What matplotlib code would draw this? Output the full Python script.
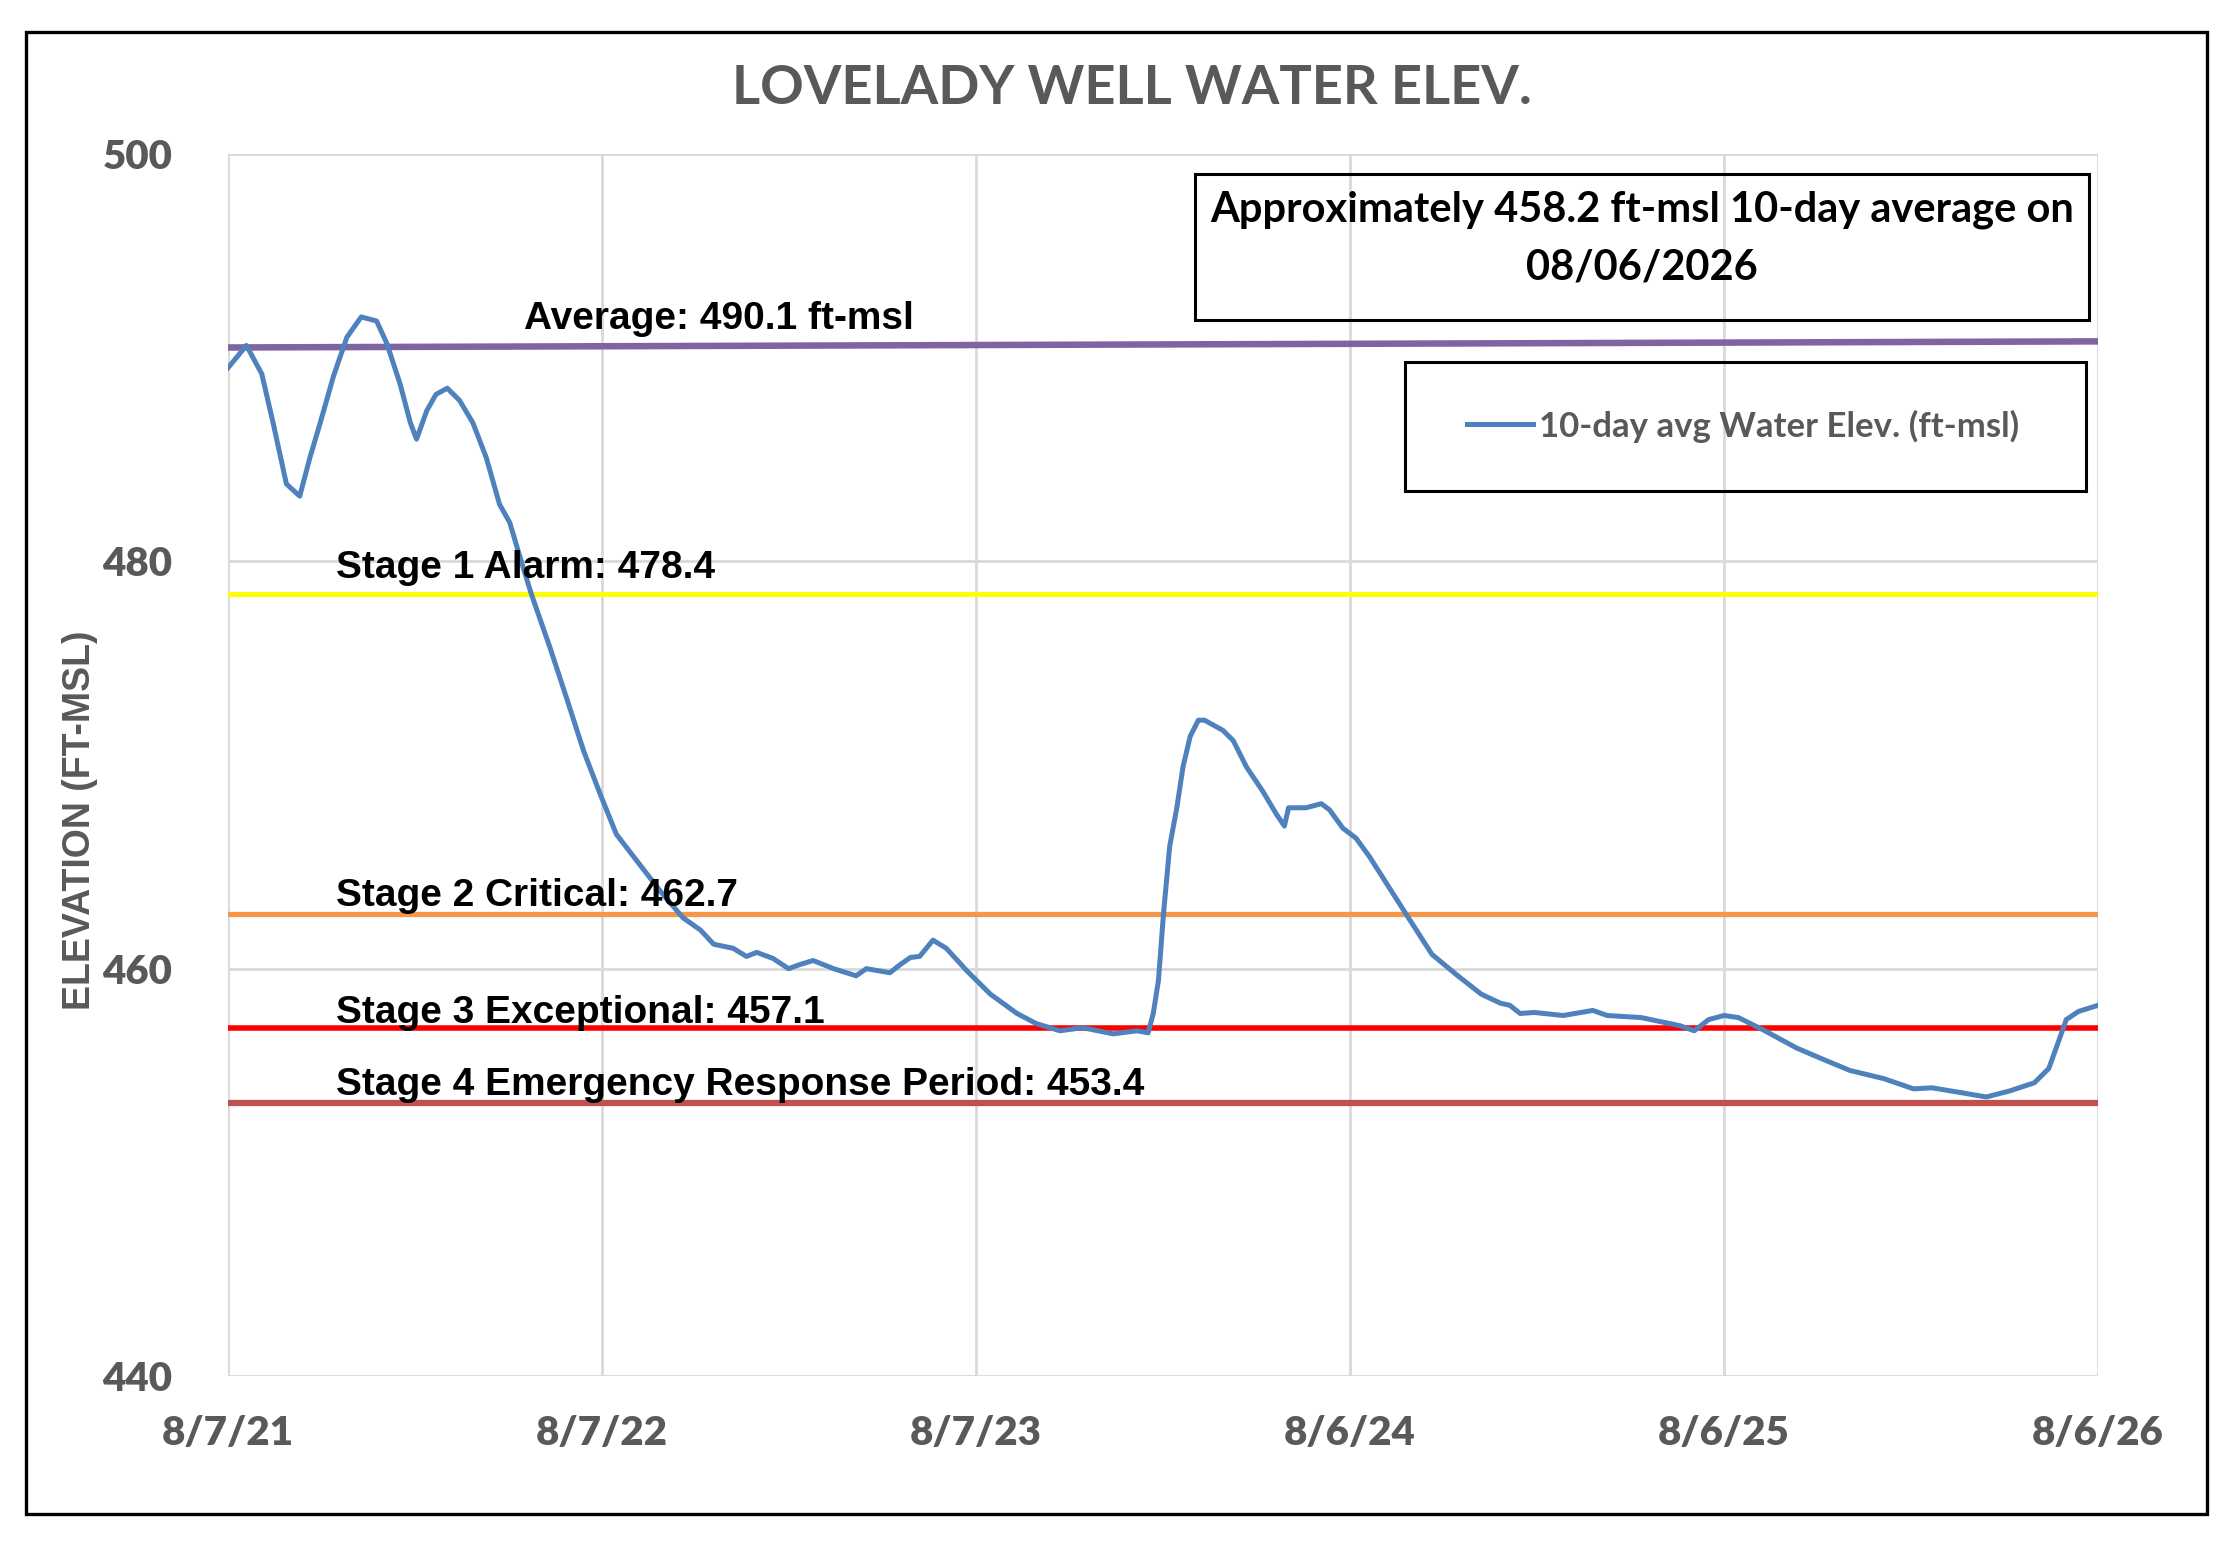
import numpy as np
import pandas as pd
import matplotlib
matplotlib.use("Agg")
import matplotlib.pyplot as plt
from matplotlib.patches import Rectangle

# data (day offset from 8/7/21, 10-day avg elevation ft-msl)
start_date = "2021-08-07"
days = [0, 18, 33, 44, 57, 70, 80, 90, 103, 116, 130, 145, 155, 168, 178, 184, 194,
        203, 214, 226, 239, 252, 265, 275, 285, 296, 314, 331, 347, 363, 379, 402,
        422, 444, 461, 474, 493, 506, 516, 532, 547, 558, 571, 591, 613, 623, 646,
        656, 666, 675, 688, 701, 721, 744, 770, 789, 812, 834, 864, 887, 898, 903,
        908, 913, 919, 926, 932, 939, 947, 953, 971, 981, 994, 1010, 1023, 1031,
        1035, 1052, 1067, 1075, 1088, 1101, 1114, 1133, 1152, 1175, 1199, 1223,
        1242, 1251, 1261, 1275, 1303, 1332, 1346, 1379, 1398, 1417, 1431, 1445,
        1460, 1474, 1498, 1531, 1559, 1583, 1616, 1645, 1663, 1687, 1716, 1739,
        1763, 1777, 1787, 1794, 1806, 1825]
elev = [489.5, 490.6, 489.2, 486.8, 483.8, 483.2, 485.1, 486.8, 489.1, 491.0, 492.0,
        491.8, 490.7, 488.7, 486.8, 486.0, 487.4, 488.2, 488.5, 487.9, 486.8, 485.1,
        482.8, 481.9, 480.2, 478.4, 475.8, 473.2, 470.7, 468.6, 466.6, 465.1, 463.8,
        462.5, 461.9, 461.2, 461.0, 460.6, 460.8, 460.5, 460.0, 460.2, 460.4, 460.0,
        459.65, 460.0, 459.8, 460.2, 460.55, 460.6, 461.4, 461.0, 459.9, 458.75,
        457.8, 457.3, 456.95, 457.1, 456.8, 456.95, 456.85, 457.8, 459.4, 462.7,
        466.0, 467.9, 469.9, 471.4, 472.2, 472.2, 471.7, 471.2, 469.9, 468.7, 467.6,
        467.0, 467.9, 467.9, 468.1, 467.8, 466.9, 466.4, 465.5, 464.0, 462.5, 460.7,
        459.7, 458.75, 458.3, 458.2, 457.8, 457.85, 457.7, 457.95, 457.7, 457.6,
        457.4, 457.2, 456.95, 457.5, 457.7, 457.6, 457.0, 456.1, 455.5, 455.0, 454.6,
        454.1, 454.15, 453.95, 453.7, 454.0, 454.4, 455.1, 456.5, 457.5, 457.9, 458.2]

avg_line = [490.5, 490.8]   # drawn average line, start and end
stage_names = ["Stage 1 Alarm: 478.4", "Stage 2 Critical: 462.7",
               "Stage 3 Exceptional: 457.1", "Stage 4 Emergency Response Period: 453.4"]
stage_vals = [478.4, 462.7, 457.1, 453.4]
stage_cols = ["#FFFF00", "#F79646", "#FF0000", "#C0504D"]
stage_lw = [3.6, 3.8, 4.0, 4.5]
stage_text_y = [479.2, 463.1, 457.33, 453.79]

tick_dates = ["2021-08-07", "2022-08-07", "2023-08-07", "2024-08-06", "2025-08-06", "2026-08-06"]
tick_labels = ["8/7/21", "8/7/22", "8/7/23", "8/6/24", "8/6/25", "8/6/26"]
yticks = [440, 460, 480, 500]

t0 = pd.Timestamp(start_date)
dates = t0 + pd.to_timedelta(days, unit="D")
t_end = pd.Timestamp(tick_dates[-1])

W, H = 2236, 1550
fig = plt.figure(figsize=(W / 100, H / 100), dpi=100)
ax = fig.add_axes([228 / W, 1 - 1376 / H, (2098 - 228) / W, (1376 - 154) / H])

gray = "#595959"
calib = "Lato"
arial = "Liberation Sans"

ax.plot([t0, t_end], avg_line, color="#8064A2", lw=4.7, zorder=3)
for v, c, lw in zip(stage_vals, stage_cols, stage_lw):
    ax.axhline(v, color=c, lw=lw, zorder=3)
line, = ax.plot(dates, elev, color="#4F81BD", lw=3.6, zorder=4,
                label="10-day avg Water Elev. (ft-msl)")

ax.text(t0 + pd.Timedelta(days=289), 491.4, "Average: 490.1 ft-msl", fontsize=28,
        fontweight="bold", family=arial, va="baseline", zorder=5)
for name, ty in zip(stage_names, stage_text_y):
    ax.text(t0 + pd.Timedelta(days=105), ty, name, fontsize=28, fontweight="bold",
            family=arial, va="baseline", zorder=5)

ax.set_xlim(t0, t_end)
ax.set_ylim(440, 500)
ax.set_xticks(pd.to_datetime(tick_dates))
ax.set_xticklabels(tick_labels)
ax.set_yticks(yticks)
ax.grid(True, color="#D9D9D9", lw=2, zorder=0)
ax.set_axisbelow(True)
for s in ax.spines.values():
    s.set_visible(False)
ax.tick_params(length=0, labelsize=29, labelcolor=gray)
ax.tick_params(axis="x", pad=28)
ax.tick_params(axis="y", pad=40)
for lab in ax.get_xticklabels() + ax.get_yticklabels():
    lab.set_family(calib)
    lab.set_fontweight("heavy")

fig.text(1132 / W, 1 - 89 / H, "LOVELADY WELL WATER ELEV.", fontsize=39,
         fontweight="bold", family=calib, color=gray, ha="center", va="center")
fig.text(80 / W, 1 - 820 / H, "ELEVATION (FT-MSL)", rotation=90, fontsize=27,
         fontweight="bold", family=arial, color=gray, ha="center", va="center")

# annotation box
fig.add_artist(Rectangle((1195 / W, 1 - 320 / H), (2089 - 1195) / W, (320 - 174) / H,
                         transform=fig.transFigure, fill=False, ec="black", lw=2.2))
fig.text(1642 / W, 1 - 210 / H, "Approximately 458.2 ft-msl 10-day average on",
         fontsize=30, fontweight="bold", family=calib, ha="center", va="center")
fig.text(1642 / W, 1 - 267 / H, "08/06/2026", fontsize=30, fontweight="bold",
         family=calib, ha="center", va="center")

# legend box
fig.add_artist(Rectangle((1405 / W, 1 - 491 / H), (2086 - 1405) / W, (491 - 362) / H,
                         transform=fig.transFigure, fill=False, ec="black", lw=2.2))
leg = ax.legend(handles=[line], loc="center left", bbox_to_anchor=(1467 / W, 1 - 426 / H),
                bbox_transform=fig.transFigure, frameon=False, borderpad=0,
                borderaxespad=0, handlelength=1.9, handletextpad=0.17,
                prop={"family": calib, "weight": "bold", "size": 25})
for t in leg.get_texts():
    t.set_color(gray)

# outer border
fig.add_artist(Rectangle((26 / W, 1 - 1514 / H), (2207 - 26) / W, (1514 - 32) / H,
                         transform=fig.transFigure, fill=False, ec="black", lw=2.4))

fig.savefig("out.png", dpi=100)
